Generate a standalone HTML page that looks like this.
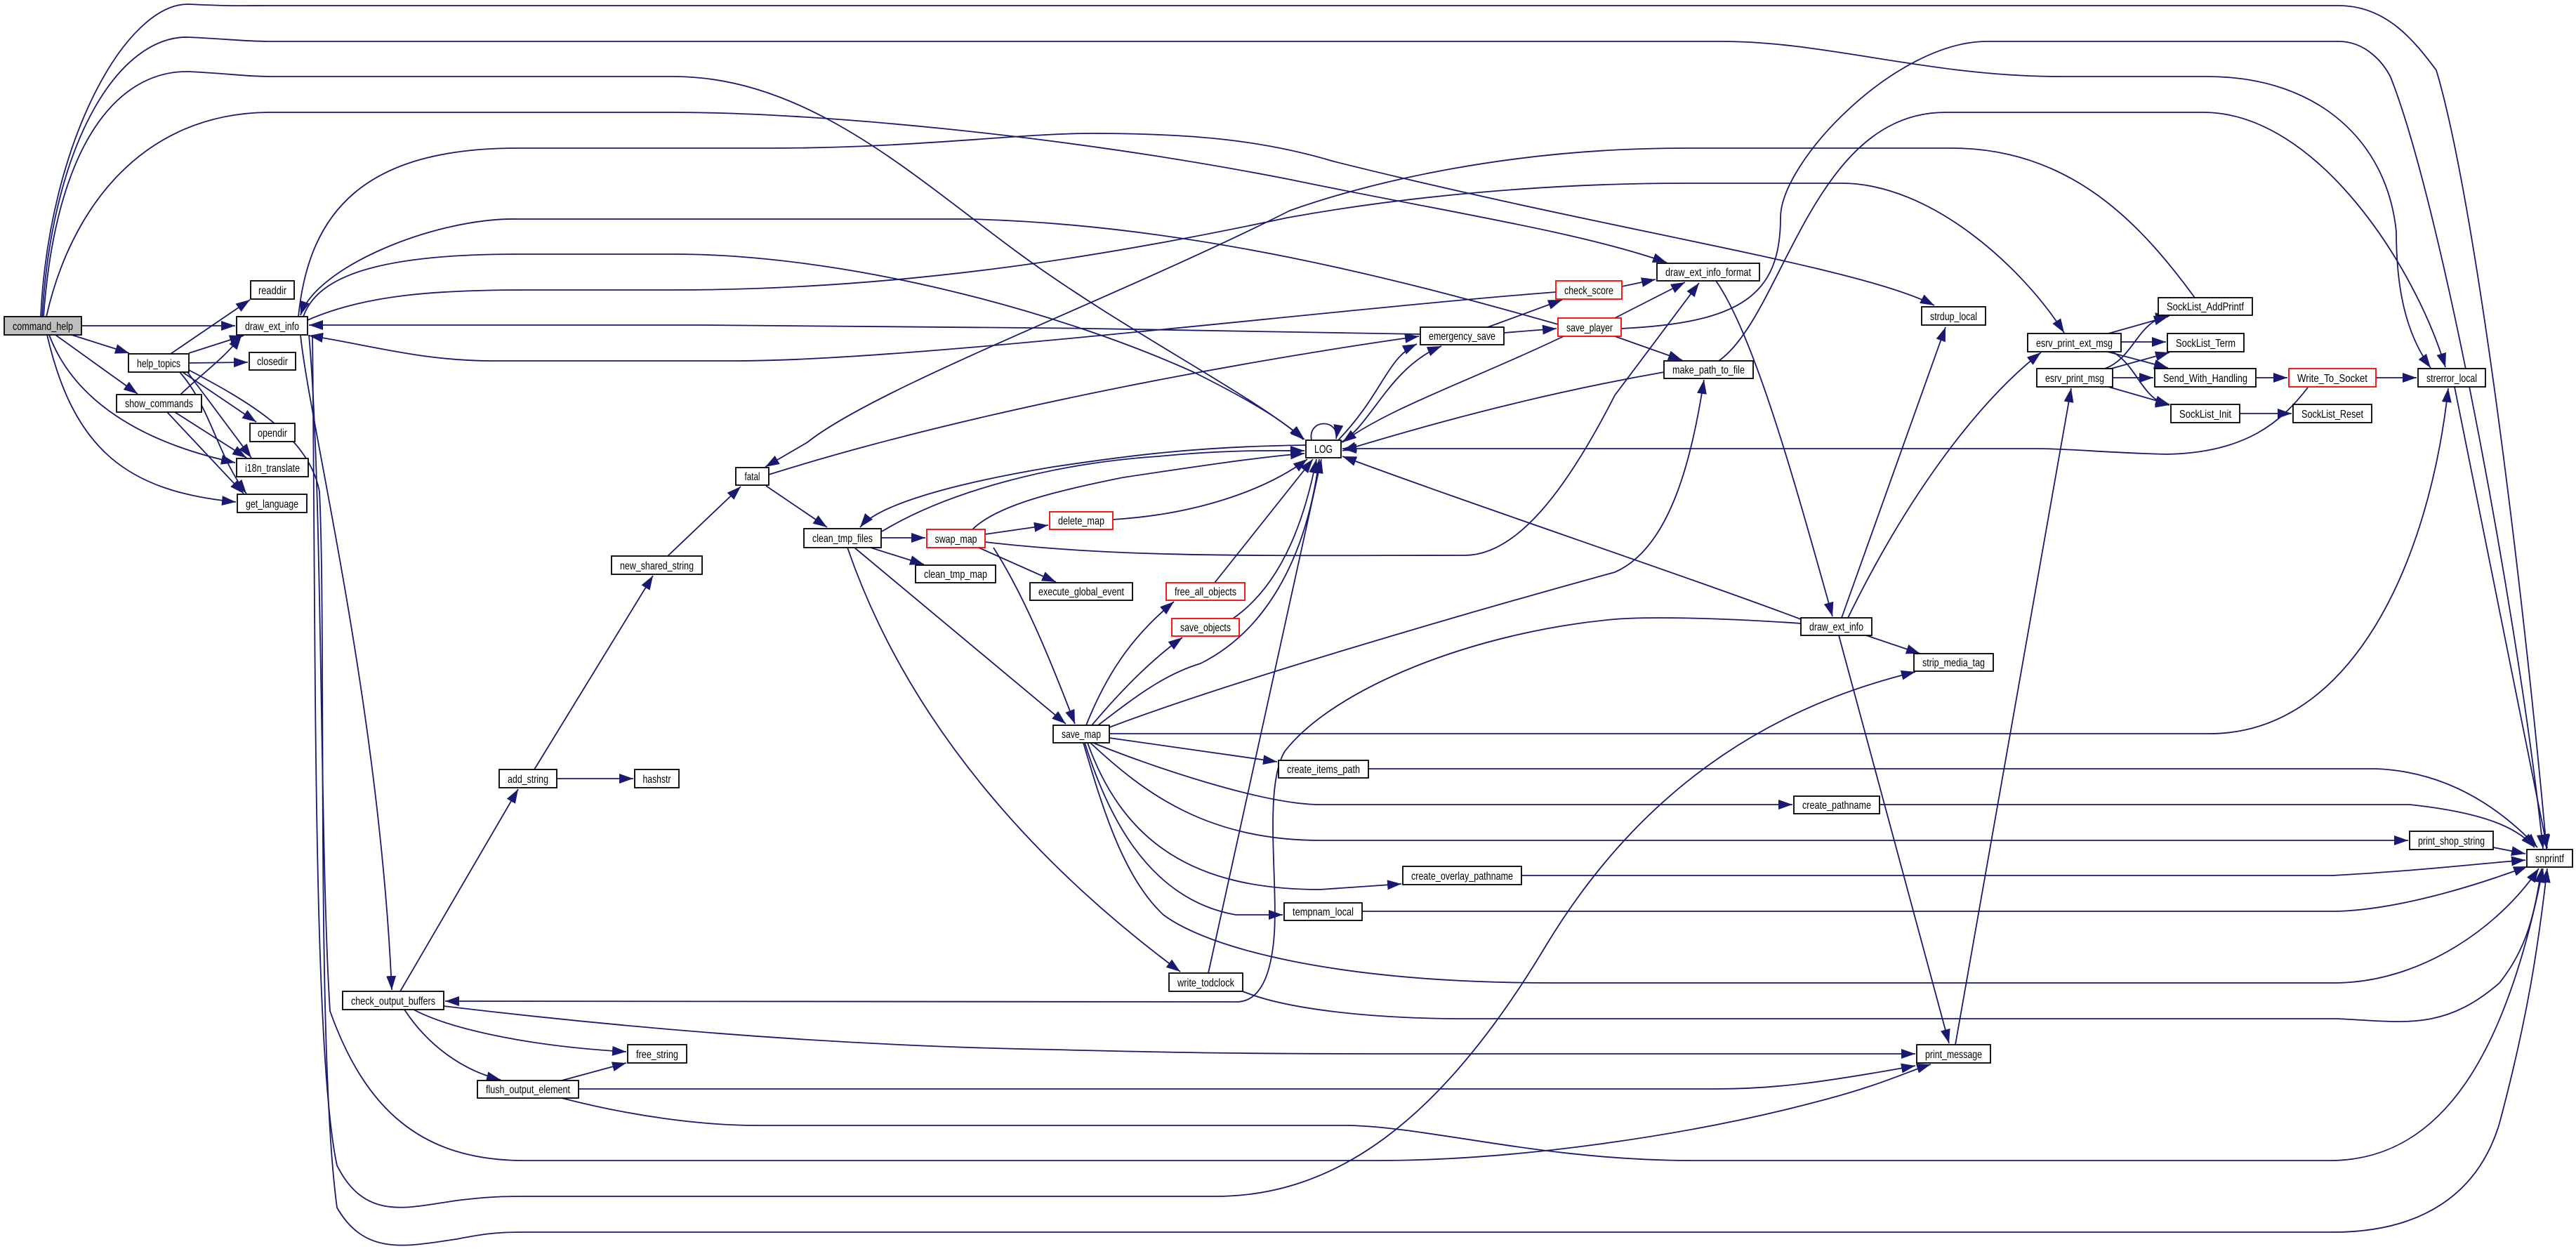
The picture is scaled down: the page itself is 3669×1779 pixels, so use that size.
<!DOCTYPE html>
<html><head><meta charset="utf-8"><style>
html,body{margin:0;padding:0;background:#fff;}
svg{display:block;}
text{font-family:"Liberation Sans",sans-serif;font-size:16px;fill:#000;}
</style></head><body>
<svg width="3669" height="1779" viewBox="0 0 3669 1779" xmlns="http://www.w3.org/2000/svg">
<defs><marker id="a" markerUnits="userSpaceOnUse" markerWidth="22" markerHeight="16" refX="20" refY="7" orient="auto"><path d="M0,0 L20,7 L0,14 z" fill="#191970"/></marker></defs>
<g fill="none" stroke="#191970" stroke-width="1.8" marker-end="url(#a)">
<path d="M58,451 C70,200 180,4 269,6 C330,9 350,8 386,8 L3331,8 C3400,8 3440,60 3470,100 C3530,300 3600,900 3627,1209"/>
<path d="M2309,468 C2480,460 2536,420 2536,310 C2536,230 2700,59 2830,59 L3331,59 C3370,59 3395,90 3405,110 C3480,300 3590,900 3622,1209"/>
<path d="M60,451 C75,200 170,50 269,53 C330,56 350,59 386,59 L2454,59 C2600,59 2750,109 2933,109 L3144,109 C3300,109 3400,200 3413,330 C3413,420 3430,480 3462,524"/>
<path d="M62,451 C80,200 170,100 269,102 C330,105 350,109 386,109 L959,109 C1150,109 1300,250 1450,360 C1600,470 1780,560 1858,626"/>
<path d="M66,451 C100,300 200,160 386,160 L959,160 C1150,160 1500,190 1834,255 C2050,300 2250,330 2374,374"/>
<path d="M2219,462 C2000,400 1700,320 1380,312 L737,312 C620,310 450,380 428,449"/>
<path d="M432,451 C450,400 520,362 737,362 L959,362 C1200,362 1500,440 1700,530 C1780,570 1830,600 1856,626"/>
<path d="M438,456 C520,420 620,413 748,413 L959,413 C1300,413 1600,360 1834,310 C2000,280 2200,261 2400,261 L2623,261 C2750,261 2880,380 2940,474"/>
<path d="M3126,424 C3050,320 2950,211 2780,211 L2400,211 C2150,211 1950,260 1837,300 C1600,420 1250,550 1150,630 L1090,665"/>
<path d="M2216,416 C1900,440 1300,514 1050,514 L700,514 C600,514 520,490 440,478"/>
<path d="M2023,476 C1800,470 1200,463 1000,463 L440,463"/>
<path d="M116,464 L335,464"/>
<path d="M1095,676 C1400,580 1800,510 2021,479"/>
<path d="M1860,634 C1700,636 1600,650 1500,665 C1350,690 1250,720 1225,751"/>
<path d="M1256,757 C1350,700 1500,660 1650,650 C1750,640 1820,642 1858,642"/>
<path d="M1385,754 C1420,720 1500,700 1600,680 C1700,665 1800,650 1858,646"/>
<path d="M1091,692 L1178,751"/>
<path d="M1255,766 L1318,766"/>
<path d="M1403,761 L1493,748"/>
<path d="M1240,780 L1316,804"/>
<path d="M1394,780 L1504,829"/>
<path d="M1415,780 C1460,850 1500,950 1531,1031"/>
<path d="M1217,780 L1518,1031"/>
<path d="M1207,780 C1300,1050 1500,1250 1681,1384"/>
<path d="M1585,740 C1700,733 1800,700 1862,654"/>
<path d="M1403,772 C1600,795 1800,791 2086,791 C2160,791 2230,700 2300,563 L2420,403"/>
<path d="M1580,1036 C1746,973 2078,876 2300,815 C2380,780 2410,650 2427,541"/>
<path d="M1547,1033 C1580,950 1620,900 1672,857"/>
<path d="M1555,1033 C1600,980 1640,940 1684,908"/>
<path d="M1730,830 L1870,654"/>
<path d="M1756,881 C1830,830 1860,730 1875,654"/>
<path d="M1564,1033 C1620,990 1660,960 1710,945 C1800,900 1860,800 1879,654"/>
<path d="M1721,1386 L1882,654"/>
<path d="M2370,530 C2200,560 2050,600 1912,642"/>
<path d="M3287,552 C3250,600 3200,645 3086,647 C3000,645 2950,639 2900,639 L1912,639"/>
<path d="M2565,882 C2400,820 2100,720 1912,650"/>
<path d="M2227,479 C2100,540 1980,580 1912,630"/>
<path d="M1906,627 C1970,560 1975,510 2018,490"/>
<path d="M1910,630 C1953,606 1978,524 2053,493"/>
<path d="M1868,627 C1862,596 1908,596 1903,625"/>
<path d="M2119,466 L2225,427"/>
<path d="M2142,474 L2217,468"/>
<path d="M2310,408 L2358,398"/>
<path d="M2300,453 L2400,402"/>
<path d="M2300,479 L2396,513"/>
<path d="M2444,400 C2500,480 2560,700 2610,878"/>
<path d="M2448,514 C2540,450 2580,160 2771,160 L3138,160 C3300,160 3440,380 3483,523"/>
<path d="M2623,880 L2771,466"/>
<path d="M2632,880 C2720,700 2820,570 2907,502"/>
<path d="M2658,905 L2735,931"/>
<path d="M2619,905 L2776,1486"/>
<path d="M2785,1488 L2950,553"/>
<path d="M3003,475 L3088,451"/>
<path d="M3021,487 L3085,487"/>
<path d="M2998,500 L3088,524"/>
<path d="M3007,500 C3045,520 3050,570 3090,577"/>
<path d="M2998,525 C3040,510 3045,455 3090,450"/>
<path d="M3007,525 L3090,502"/>
<path d="M3009,538 L3067,538"/>
<path d="M3003,551 L3090,576"/>
<path d="M3213,538 L3258,538"/>
<path d="M3384,538 L3442,538"/>
<path d="M3190,589 L3264,589"/>
<path d="M3496,551 L3628,1208"/>
<path d="M1580,1045 L3147,1045 C3350,1045 3460,800 3487,553"/>
<path d="M1580,1051 L1819,1085"/>
<path d="M1949,1095 L3384,1095 C3486,1099 3560,1150 3614,1207"/>
<path d="M1557,1058 C1632,1089 1798,1146 1880,1146 L2553,1146"/>
<path d="M2677,1146 L3432,1146 C3554,1159 3590,1185 3610,1207"/>
<path d="M1553,1058 C1630,1130 1720,1197 1880,1197 L3430,1197"/>
<path d="M3551,1207 L3597,1216"/>
<path d="M1549,1058 C1600,1200 1700,1267 1880,1267 L1996,1259"/>
<path d="M2167,1247 L3323,1247 C3450,1240 3530,1230 3597,1225"/>
<path d="M1545,1058 C1574,1150 1630,1280 1760,1303 L1827,1303"/>
<path d="M1940,1298 L3329,1298 C3420,1295 3530,1260 3600,1234"/>
<path d="M1543,1058 C1570,1150 1600,1250 1657,1303 C1720,1350 1900,1400 2212,1400 L3329,1400 C3450,1398 3560,1320 3616,1237"/>
<path d="M1770,1412 C1830,1437 1950,1451 2088,1451 L3329,1451 C3420,1455 3480,1470 3560,1400 C3600,1350 3610,1300 3620,1237"/>
<path d="M2565,888 C2450,880 2350,878 2300,882 C2100,900 1900,980 1830,1070 C1800,1120 1820,1250 1815,1330 C1810,1400 1790,1425 1764,1427 L634,1426"/>
<path d="M632,1433 C900,1465 1200,1490 1500,1495 C1700,1500 1800,1501 2000,1501 L2728,1501"/>
<path d="M824,1551 L2444,1551 C2530,1551 2600,1541 2728,1518"/>
<path d="M800,1564 C900,1590 1000,1603 1078,1603 L1922,1603 C2040,1606 2200,1653 2411,1653 L3323,1653 C3480,1650 3570,1500 3622,1237"/>
<path d="M440,477 C460,700 455,1200 470,1440 C520,1580 600,1653 746,1653 L1963,1653 C2150,1653 2400,1620 2600,1566 C2680,1545 2720,1525 2750,1516"/>
<path d="M445,477 C450,900 445,1500 480,1660 C520,1740 580,1720 650,1710 C700,1704 720,1704 746,1704 L1731,1704 C1900,1704 2050,1600 2200,1350 C2350,1100 2550,1000 2728,957"/>
<path d="M269,527 C350,570 440,620 455,700 C465,900 450,1500 480,1720 C520,1790 580,1775 650,1765 C700,1755 720,1755 746,1755 L3323,1755 C3450,1755 3530,1700 3560,1600 C3600,1450 3615,1350 3628,1237"/>
<path d="M428,477 C440,600 540,1000 558,1410"/>
<path d="M570,1412 L738,1124"/>
<path d="M761,1096 L930,820"/>
<path d="M951,792 L1055,693"/>
<path d="M793,1109 L902,1109"/>
<path d="M589,1438 C640,1465 750,1490 892,1498"/>
<path d="M576,1438 C610,1490 660,1525 713,1538"/>
<path d="M800,1539 L892,1514"/>
<path d="M425,451 C440,300 520,211 737,211 L1100,211 C1300,211 1450,190 1555,190 C1700,190 1800,200 1900,230 C2300,330 2650,380 2755,435"/>
<path d="M102,477 L184,503"/>
<path d="M79,477 L196,561"/>
<path d="M70,477 C105,570 200,630 335,659"/>
<path d="M67,477 C105,640 180,700 336,715"/>
<path d="M243,504 L356,427"/>
<path d="M269,503 L347,478"/>
<path d="M269,517 L353,516"/>
<path d="M260,530 L365,601"/>
<path d="M267,530 L358,652"/>
<path d="M256,530 C300,580 310,650 351,703"/>
<path d="M257,562 C290,530 320,510 344,478"/>
<path d="M249,587 L351,652"/>
<path d="M238,587 L347,703"/>
</g>
<g stroke-width="1.8">
<rect x="6" y="451" width="110" height="26" fill="#bfbfbf" stroke="#000"/>
<rect x="337" y="451" width="101" height="26" fill="#fff" stroke="#000"/>
<rect x="357" y="400" width="62" height="26" fill="#fff" stroke="#000"/>
<rect x="183" y="504" width="86" height="26" fill="#fff" stroke="#000"/>
<rect x="355" y="502" width="66" height="25" fill="#fff" stroke="#000"/>
<rect x="166" y="562" width="121" height="25" fill="#fff" stroke="#000"/>
<rect x="356" y="603" width="64" height="26" fill="#fff" stroke="#000"/>
<rect x="337" y="653" width="102" height="26" fill="#fff" stroke="#000"/>
<rect x="338" y="704" width="99" height="26" fill="#fff" stroke="#000"/>
<rect x="1048" y="666" width="47" height="25" fill="#fff" stroke="#000"/>
<rect x="871" y="792" width="129" height="26" fill="#fff" stroke="#000"/>
<rect x="711" y="1096" width="82" height="26" fill="#fff" stroke="#000"/>
<rect x="904" y="1096" width="63" height="26" fill="#fff" stroke="#000"/>
<rect x="488" y="1412" width="144" height="26" fill="#fff" stroke="#000"/>
<rect x="894" y="1488" width="84" height="26" fill="#fff" stroke="#000"/>
<rect x="680" y="1539" width="144" height="25" fill="#fff" stroke="#000"/>
<rect x="1145" y="753" width="110" height="27" fill="#fff" stroke="#000"/>
<rect x="1320" y="754" width="83" height="26" fill="#fff" stroke="#f00"/>
<rect x="1495" y="729" width="90" height="25" fill="#fff" stroke="#f00"/>
<rect x="1304" y="805" width="114" height="25" fill="#fff" stroke="#000"/>
<rect x="1467" y="830" width="146" height="25" fill="#fff" stroke="#000"/>
<rect x="1661" y="830" width="112" height="25" fill="#fff" stroke="#f00"/>
<rect x="1669" y="881" width="96" height="25" fill="#fff" stroke="#f00"/>
<rect x="1500" y="1033" width="80" height="25" fill="#fff" stroke="#000"/>
<rect x="1860" y="627" width="50" height="25" fill="#fff" stroke="#000"/>
<rect x="2023" y="466" width="119" height="25" fill="#fff" stroke="#000"/>
<rect x="2216" y="400" width="94" height="26" fill="#fff" stroke="#f00"/>
<rect x="2219" y="453" width="90" height="26" fill="#fff" stroke="#f00"/>
<rect x="2360" y="375" width="146" height="25" fill="#fff" stroke="#000"/>
<rect x="2370" y="514" width="127" height="25" fill="#fff" stroke="#000"/>
<rect x="2737" y="437" width="91" height="26" fill="#fff" stroke="#000"/>
<rect x="2888" y="475" width="133" height="26" fill="#fff" stroke="#000"/>
<rect x="2901" y="525" width="108" height="26" fill="#fff" stroke="#000"/>
<rect x="3074" y="424" width="134" height="25" fill="#fff" stroke="#000"/>
<rect x="3087" y="475" width="109" height="26" fill="#fff" stroke="#000"/>
<rect x="3069" y="525" width="144" height="26" fill="#fff" stroke="#000"/>
<rect x="3092" y="576" width="98" height="26" fill="#fff" stroke="#000"/>
<rect x="3260" y="525" width="124" height="26" fill="#fff" stroke="#f00"/>
<rect x="3266" y="576" width="112" height="26" fill="#fff" stroke="#000"/>
<rect x="3444" y="525" width="96" height="26" fill="#fff" stroke="#000"/>
<rect x="2565" y="880" width="101" height="25" fill="#fff" stroke="#000"/>
<rect x="2726" y="931" width="113" height="25" fill="#fff" stroke="#000"/>
<rect x="1821" y="1083" width="128" height="25" fill="#fff" stroke="#000"/>
<rect x="2555" y="1134" width="122" height="25" fill="#fff" stroke="#000"/>
<rect x="1998" y="1234" width="169" height="26" fill="#fff" stroke="#000"/>
<rect x="1829" y="1286" width="111" height="25" fill="#fff" stroke="#000"/>
<rect x="1665" y="1386" width="105" height="26" fill="#fff" stroke="#000"/>
<rect x="3432" y="1184" width="119" height="26" fill="#fff" stroke="#000"/>
<rect x="3599" y="1210" width="65" height="25" fill="#fff" stroke="#000"/>
<rect x="2730" y="1488" width="105" height="26" fill="#fff" stroke="#000"/>
</g>
<g text-anchor="middle" lengthAdjust="spacingAndGlyphs">
<text x="61" y="470" textLength="86" lengthAdjust="spacingAndGlyphs">command_help</text>
<text x="387.5" y="470" textLength="77" lengthAdjust="spacingAndGlyphs">draw_ext_info</text>
<text x="388" y="419" textLength="40" lengthAdjust="spacingAndGlyphs">readdir</text>
<text x="226" y="523" textLength="62" lengthAdjust="spacingAndGlyphs">help_topics</text>
<text x="388" y="520" textLength="44" lengthAdjust="spacingAndGlyphs">closedir</text>
<text x="226.5" y="580" textLength="97" lengthAdjust="spacingAndGlyphs">show_commands</text>
<text x="388" y="622" textLength="42" lengthAdjust="spacingAndGlyphs">opendir</text>
<text x="388" y="672" textLength="78" lengthAdjust="spacingAndGlyphs">i18n_translate</text>
<text x="387.5" y="723" textLength="75" lengthAdjust="spacingAndGlyphs">get_language</text>
<text x="1071.5" y="684" textLength="22" lengthAdjust="spacingAndGlyphs">fatal</text>
<text x="935.5" y="811" textLength="105" lengthAdjust="spacingAndGlyphs">new_shared_string</text>
<text x="752" y="1115" textLength="58" lengthAdjust="spacingAndGlyphs">add_string</text>
<text x="935.5" y="1115" textLength="40" lengthAdjust="spacingAndGlyphs">hashstr</text>
<text x="560" y="1431" textLength="120" lengthAdjust="spacingAndGlyphs">check_output_buffers</text>
<text x="936" y="1507" textLength="60" lengthAdjust="spacingAndGlyphs">free_string</text>
<text x="752" y="1557" textLength="120" lengthAdjust="spacingAndGlyphs">flush_output_element</text>
<text x="1200" y="772" textLength="86" lengthAdjust="spacingAndGlyphs">clean_tmp_files</text>
<text x="1361.5" y="773" textLength="60" lengthAdjust="spacingAndGlyphs">swap_map</text>
<text x="1540" y="747" textLength="66" lengthAdjust="spacingAndGlyphs">delete_map</text>
<text x="1361" y="823" textLength="90" lengthAdjust="spacingAndGlyphs">clean_tmp_map</text>
<text x="1540" y="848" textLength="122" lengthAdjust="spacingAndGlyphs">execute_global_event</text>
<text x="1717" y="848" textLength="88" lengthAdjust="spacingAndGlyphs">free_all_objects</text>
<text x="1717" y="899" textLength="72" lengthAdjust="spacingAndGlyphs">save_objects</text>
<text x="1540" y="1051" textLength="56" lengthAdjust="spacingAndGlyphs">save_map</text>
<text x="1885" y="645" textLength="26" lengthAdjust="spacingAndGlyphs">LOG</text>
<text x="2082.5" y="484" textLength="95" lengthAdjust="spacingAndGlyphs">emergency_save</text>
<text x="2263" y="419" textLength="70" lengthAdjust="spacingAndGlyphs">check_score</text>
<text x="2264" y="472" textLength="66" lengthAdjust="spacingAndGlyphs">save_player</text>
<text x="2433" y="393" textLength="122" lengthAdjust="spacingAndGlyphs">draw_ext_info_format</text>
<text x="2433.5" y="532" textLength="103" lengthAdjust="spacingAndGlyphs">make_path_to_file</text>
<text x="2782.5" y="456" textLength="67" lengthAdjust="spacingAndGlyphs">strdup_local</text>
<text x="2954.5" y="494" textLength="109" lengthAdjust="spacingAndGlyphs">esrv_print_ext_msg</text>
<text x="2955" y="544" textLength="84" lengthAdjust="spacingAndGlyphs">esrv_print_msg</text>
<text x="3141" y="442" textLength="110" lengthAdjust="spacingAndGlyphs">SockList_AddPrintf</text>
<text x="3141.5" y="494" textLength="85" lengthAdjust="spacingAndGlyphs">SockList_Term</text>
<text x="3141" y="544" textLength="120" lengthAdjust="spacingAndGlyphs">Send_With_Handling</text>
<text x="3141" y="595" textLength="74" lengthAdjust="spacingAndGlyphs">SockList_Init</text>
<text x="3322" y="544" textLength="100" lengthAdjust="spacingAndGlyphs">Write_To_Socket</text>
<text x="3322" y="595" textLength="88" lengthAdjust="spacingAndGlyphs">SockList_Reset</text>
<text x="3492" y="544" textLength="72" lengthAdjust="spacingAndGlyphs">strerror_local</text>
<text x="2615.5" y="898" textLength="77" lengthAdjust="spacingAndGlyphs">draw_ext_info</text>
<text x="2782.5" y="949" textLength="89" lengthAdjust="spacingAndGlyphs">strip_media_tag</text>
<text x="1885" y="1101" textLength="104" lengthAdjust="spacingAndGlyphs">create_items_path</text>
<text x="2616" y="1152" textLength="98" lengthAdjust="spacingAndGlyphs">create_pathname</text>
<text x="2082.5" y="1253" textLength="145" lengthAdjust="spacingAndGlyphs">create_overlay_pathname</text>
<text x="1884.5" y="1304" textLength="87" lengthAdjust="spacingAndGlyphs">tempnam_local</text>
<text x="1717.5" y="1405" textLength="81" lengthAdjust="spacingAndGlyphs">write_todclock</text>
<text x="3491.5" y="1203" textLength="95" lengthAdjust="spacingAndGlyphs">print_shop_string</text>
<text x="3631.5" y="1228" textLength="41" lengthAdjust="spacingAndGlyphs">snprintf</text>
<text x="2782.5" y="1507" textLength="81" lengthAdjust="spacingAndGlyphs">print_message</text>
</g>
</svg>
</body></html>
